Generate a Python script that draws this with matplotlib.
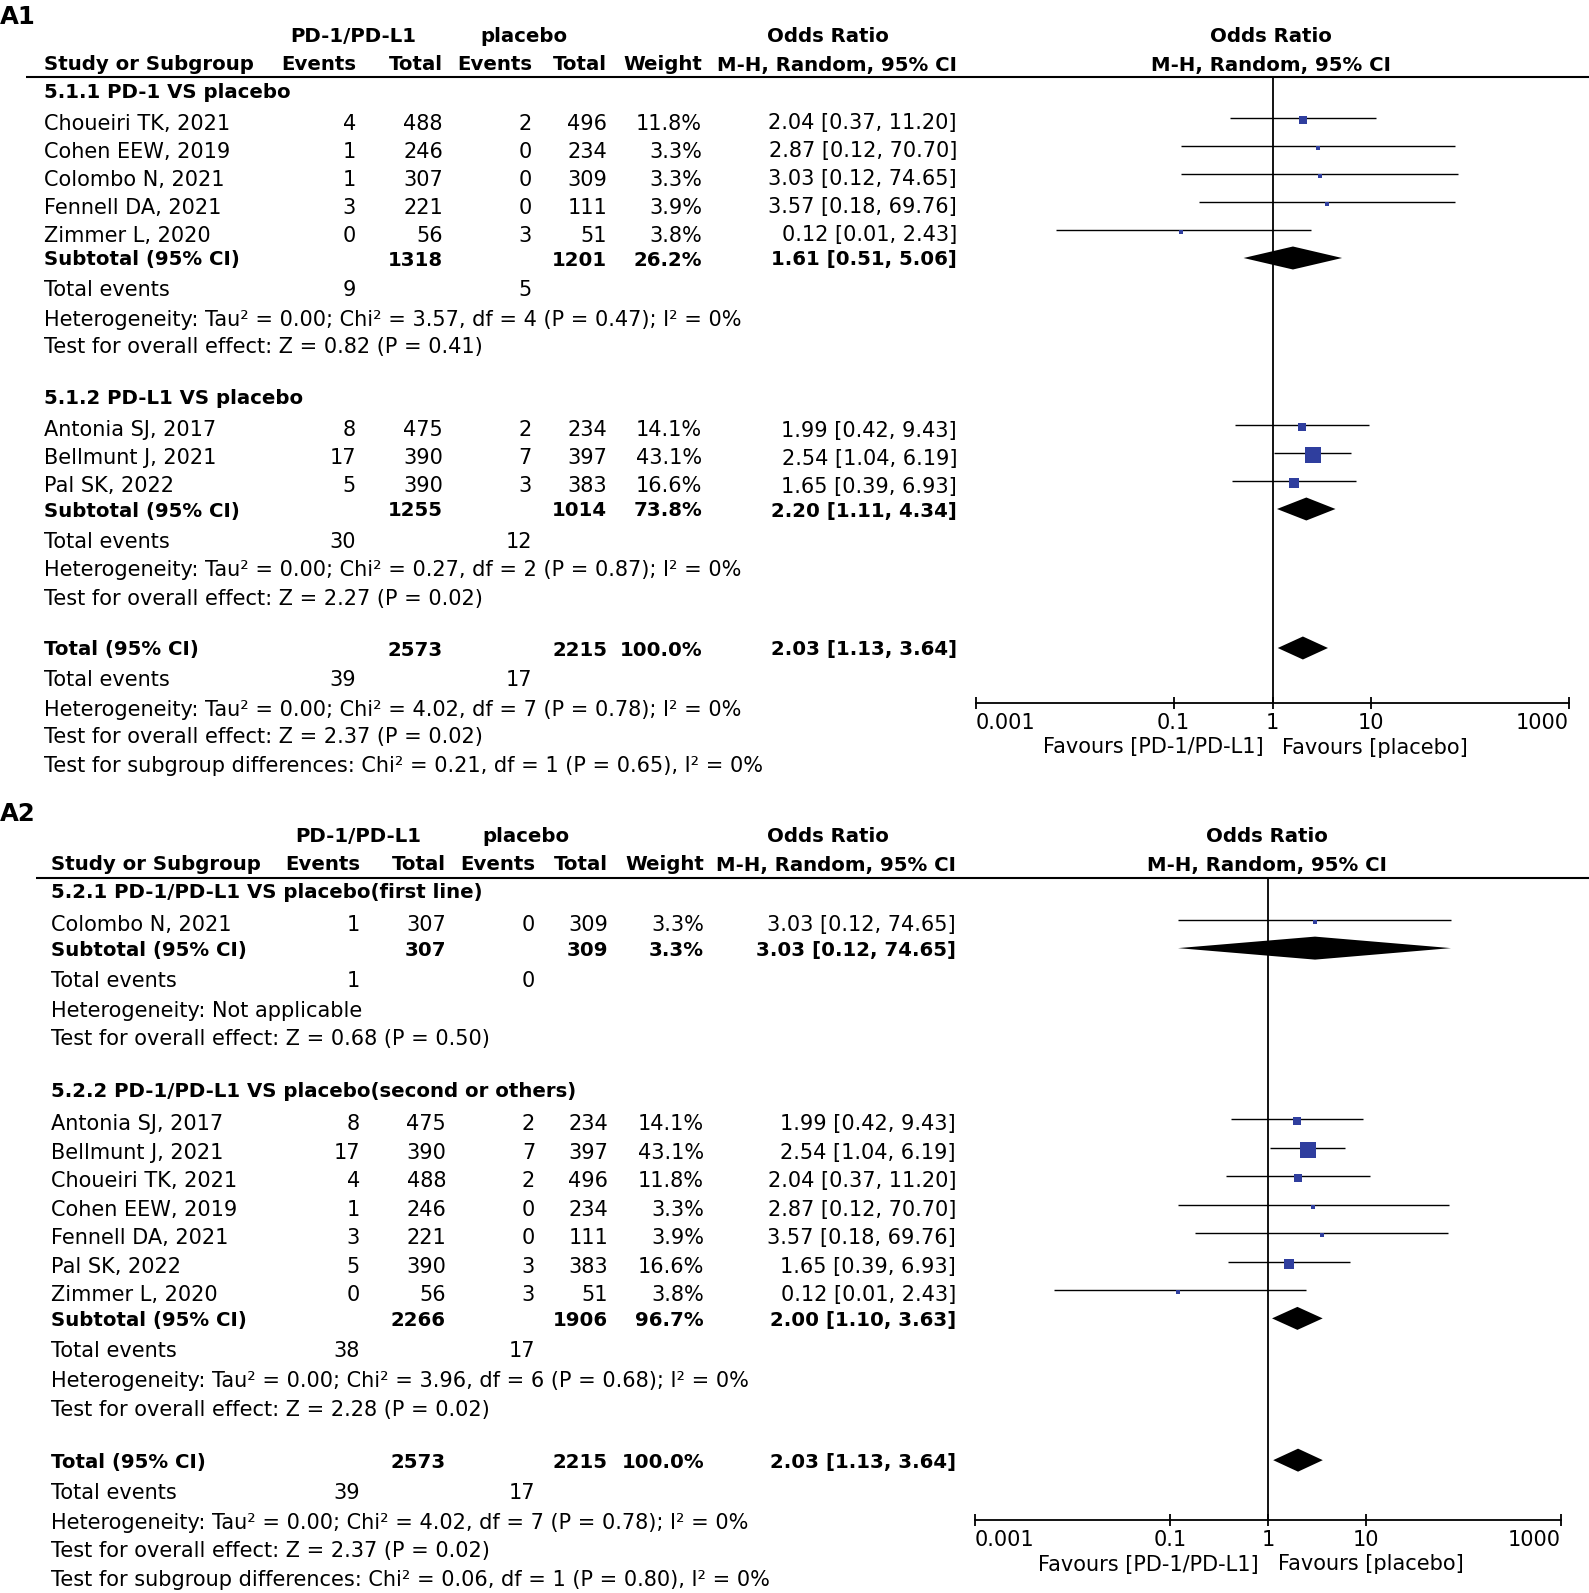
import matplotlib
matplotlib.use("Agg")
import matplotlib.pyplot as plt
import numpy as np

plt.rcParams['font.family'] = ['DejaVu Sans']

W, H, DPI = 1589, 1593, 100

# ---------------- data ----------------
study_names = ["Antonia SJ, 2017", "Bellmunt J, 2021", "Choueiri TK, 2021", "Cohen EEW, 2019",
               "Colombo N, 2021", "Fennell DA, 2021", "Pal SK, 2022", "Zimmer L, 2020"]
events_pd = [8, 17, 4, 1, 1, 3, 5, 0]
total_pd = [475, 390, 488, 246, 307, 221, 390, 56]
events_pl = [2, 7, 2, 0, 0, 0, 3, 3]
total_pl = [234, 397, 496, 234, 309, 111, 383, 51]
weights = [14.1, 43.1, 11.8, 3.3, 3.3, 3.9, 16.6, 3.8]
or_est = [1.99, 2.54, 2.04, 2.87, 3.03, 3.57, 1.65, 0.12]
or_lo = [0.42, 1.04, 0.37, 0.12, 0.12, 0.18, 0.39, 0.0065]
or_hi = [9.43, 6.19, 11.20, 70.70, 74.65, 69.76, 6.93, 2.43]

# panel A1 subgroups
a1_titles = ["5.1.1 PD-1 VS placebo", "5.1.2 PD-L1 VS placebo"]
a1_members = [["Choueiri TK, 2021", "Cohen EEW, 2019", "Colombo N, 2021", "Fennell DA, 2021", "Zimmer L, 2020"],
              ["Antonia SJ, 2017", "Bellmunt J, 2021", "Pal SK, 2022"]]
a1_sub_tot_pd = [1318, 1255]
a1_sub_tot_pl = [1201, 1014]
a1_sub_weight = [26.2, 73.8]
a1_sub_or = [1.61, 2.20]
a1_sub_lo = [0.51, 1.11]
a1_sub_hi = [5.06, 4.34]
a1_sub_ev_pd = [9, 30]
a1_sub_ev_pl = [5, 12]
a1_sub_het = ["Heterogeneity: Tau² = 0.00; Chi² = 3.57, df = 4 (P = 0.47); I² = 0%",
              "Heterogeneity: Tau² = 0.00; Chi² = 0.27, df = 2 (P = 0.87); I² = 0%"]
a1_sub_z = ["Test for overall effect: Z = 0.82 (P = 0.41)",
            "Test for overall effect: Z = 2.27 (P = 0.02)"]
a1_subgroup_diff = "Test for subgroup differences: Chi² = 0.21, df = 1 (P = 0.65), I² = 0%"

# panel A2 subgroups
a2_titles = ["5.2.1 PD-1/PD-L1 VS placebo(first line)", "5.2.2 PD-1/PD-L1 VS placebo(second or others)"]
a2_members = [["Colombo N, 2021"],
              ["Antonia SJ, 2017", "Bellmunt J, 2021", "Choueiri TK, 2021", "Cohen EEW, 2019",
               "Fennell DA, 2021", "Pal SK, 2022", "Zimmer L, 2020"]]
a2_sub_tot_pd = [307, 2266]
a2_sub_tot_pl = [309, 1906]
a2_sub_weight = [3.3, 96.7]
a2_sub_or = [3.03, 2.00]
a2_sub_lo = [0.12, 1.10]
a2_sub_hi = [74.65, 3.63]
a2_sub_ev_pd = [1, 38]
a2_sub_ev_pl = [0, 17]
a2_sub_het = ["Heterogeneity: Not applicable",
              "Heterogeneity: Tau² = 0.00; Chi² = 3.96, df = 6 (P = 0.68); I² = 0%"]
a2_sub_z = ["Test for overall effect: Z = 0.68 (P = 0.50)",
            "Test for overall effect: Z = 2.28 (P = 0.02)"]
a2_subgroup_diff = "Test for subgroup differences: Chi² = 0.06, df = 1 (P = 0.80), I² = 0%"

# overall
overall_tot_pd = 2573
overall_tot_pl = 2215
overall_weight = 100.0
overall_or = 2.03
overall_lo = 1.13
overall_hi = 3.64
overall_ev_pd = 39
overall_ev_pl = 17
overall_het = "Heterogeneity: Tau² = 0.00; Chi² = 4.02, df = 7 (P = 0.78); I² = 0%"
overall_z = "Test for overall effect: Z = 2.37 (P = 0.02)"

tick_vals = [0.001, 0.1, 1, 10, 1000]
tick_labels = ["0.001", "0.1", "1", "10", "1000"]
favours_left = "Favours [PD-1/PD-L1]"
favours_right = "Favours [placebo]"

# ---------------- style ----------------
FS = 15.0
FSB = 14.2
BLUE = "#2F3E9E"
BASE = 7.5

fig = plt.figure(figsize=(W / DPI, H / DPI), dpi=DPI)
bg = fig.add_axes([0, 0, 1, 1])
bg.set_xlim(0, W)
bg.set_ylim(H, 0)
bg.axis("off")


def txt(x, y, s, ha="left", bold=False, size=None):
    bg.text(x, y + BASE, s, ha=ha, va="baseline",
            fontsize=size if size else (FSB if bold else FS),
            fontweight="bold" if bold else "normal", color="black")


def fmt_or(e, l, h):
    return f"{e:.2f} [{l:.2f}, {h:.2f}]"


def draw_panel(label, label_y, hy1, hy2, line_y, line_x0, axis_y, ax_x0, ax_x1,
               xl, cols, titles, members, sub_tot_pd, sub_tot_pl, sub_w, sub_or, sub_lo, sub_hi,
               sub_ev_pd, sub_ev_pl, sub_het, sub_z, subgroup_diff, sc,
               hdr_pd_x, hdr_pl_x, hdr_or_x, right_hdr_x):
    ev1, tot1, ev2, tot2, wt, orc = cols
    # panel label
    bg.text(0, label_y + 9, label, ha="left", va="baseline", fontsize=17.6, fontweight="bold")
    # headers
    txt(hdr_pd_x, hy1, "PD-1/PD-L1", ha="center", bold=True)
    txt(hdr_pl_x, hy1, "placebo", ha="center", bold=True)
    txt(hdr_or_x, hy1, "Odds Ratio", ha="center", bold=True)
    txt(right_hdr_x, hy1, "Odds Ratio", ha="center", bold=True)
    txt(xl, hy2, "Study or Subgroup", bold=True)
    txt(ev1, hy2, "Events", ha="right", bold=True)
    txt(tot1, hy2, "Total", ha="right", bold=True)
    txt(ev2, hy2, "Events", ha="right", bold=True)
    txt(tot2, hy2, "Total", ha="right", bold=True)
    txt(wt, hy2, "Weight", ha="right", bold=True)
    txt(orc, hy2, "M-H, Random, 95% CI", ha="right", bold=True)
    txt(right_hdr_x, hy2, "M-H, Random, 95% CI", ha="center", bold=True)
    bg.plot([line_x0, W], [line_y, line_y], color="black", lw=1.5, solid_capstyle="butt")

    # forest axes in pixel-y coordinates
    ax = fig.add_axes([ax_x0 / W, 1 - axis_y / H, (ax_x1 - ax_x0) / W, (axis_y - line_y) / H])
    ax.set_xscale("log")
    ax.set_xlim(tick_vals[0], tick_vals[-1])
    ax.set_ylim(axis_y, line_y)
    ax.patch.set_alpha(0)
    for sp in ["top", "left", "right"]:
        ax.spines[sp].set_visible(False)
    ax.spines["bottom"].set_linewidth(1.3)
    ax.set_yticks([])
    ax.set_xticks(tick_vals)
    ax.set_xticklabels(tick_labels, fontsize=FS)
    ax.xaxis.set_minor_locator(matplotlib.ticker.NullLocator())
    ax.tick_params(axis="x", direction="inout", length=9, width=1.3, pad=2.5)
    lbls = ax.get_xticklabels()
    lbls[0].set_ha("left")
    lbls[-1].set_ha("right")
    ax.axvline(1, color="black", lw=1.3)

    def diamond(y, e, l, h):
        hh = 11.5
        ax.fill([l, e, h, e], [y, y - hh, y, y + hh], color="black", lw=0)

    y = line_y + 13
    for g in range(len(titles)):
        txt(xl, y, titles[g], bold=True)
        y += 32 * sc
        for k, name in enumerate(members[g]):
            i = study_names.index(name)
            if k > 0:
                y += 28 * sc
            txt(xl, y, name)
            txt(ev1, y, str(events_pd[i]), ha="right")
            txt(tot1, y, str(total_pd[i]), ha="right")
            txt(ev2, y, str(events_pl[i]), ha="right")
            txt(tot2, y, str(total_pl[i]), ha="right")
            txt(wt, y, f"{weights[i]:.1f}%", ha="right")
            txt(orc, y, fmt_or(or_est[i], or_lo[i], or_hi[i]), ha="right")
            ax.plot([or_lo[i], or_hi[i]], [y - 3.5, y - 3.5], color="black", lw=1.0,
                    solid_capstyle="butt")
            side = 2.3 * np.sqrt(weights[i])
            ax.plot([or_est[i]], [y - 1.5], marker="s", ms=side * 0.72, color=BLUE,
                    mec=BLUE, mew=0, ls="none")
        y += 24 * sc
        txt(xl, y, "Subtotal (95% CI)", bold=True)
        txt(tot1, y, str(sub_tot_pd[g]), ha="right", bold=True)
        txt(tot2, y, str(sub_tot_pl[g]), ha="right", bold=True)
        txt(wt, y, f"{sub_w[g]:.1f}%", ha="right", bold=True)
        txt(orc, y, fmt_or(sub_or[g], sub_lo[g], sub_hi[g]), ha="right", bold=True)
        diamond(y, sub_or[g], sub_lo[g], sub_hi[g])
        y += 31 * sc
        txt(xl, y, "Total events")
        txt(ev1, y, str(sub_ev_pd[g]), ha="right")
        txt(ev2, y, str(sub_ev_pl[g]), ha="right")
        y += 29 * sc
        txt(xl, y, sub_het[g])
        y += 28 * sc
        txt(xl, y, sub_z[g])
        y += 51 * sc
    # overall
    txt(xl, y, "Total (95% CI)", bold=True)
    txt(tot1, y, str(overall_tot_pd), ha="right", bold=True)
    txt(tot2, y, str(overall_tot_pl), ha="right", bold=True)
    txt(wt, y, f"{overall_weight:.1f}%", ha="right", bold=True)
    txt(orc, y, fmt_or(overall_or, overall_lo, overall_hi), ha="right", bold=True)
    diamond(y, overall_or, overall_lo, overall_hi)
    y += 31 * sc
    txt(xl, y, "Total events")
    txt(ev1, y, str(overall_ev_pd), ha="right")
    txt(ev2, y, str(overall_ev_pl), ha="right")
    y += 29 * sc
    txt(xl, y, overall_het)
    y += 28 * sc
    txt(xl, y, overall_z)
    y += 28 * sc
    txt(xl, y, subgroup_diff)

    # favours labels
    x1 = ax_x0 + (ax_x1 - ax_x0) * 0.5
    txt(x1 - 9, axis_y + 43, favours_left, ha="right")
    txt(x1 + 10, axis_y + 43, favours_right, ha="left")
    return ax


draw_panel("A1", 15, 34, 63, 77, 26, 703, 976, 1569,
           44, (356, 443, 532, 607, 702, 957),
           a1_titles, a1_members, a1_sub_tot_pd, a1_sub_tot_pl, a1_sub_weight,
           a1_sub_or, a1_sub_lo, a1_sub_hi, a1_sub_ev_pd, a1_sub_ev_pl,
           a1_sub_het, a1_sub_z, a1_subgroup_diff, 1.0,
           353, 524, 828, 1271)

draw_panel("A2", 812, 835, 863, 878, 36, 1520, 975, 1561,
           51, (360, 446, 535, 608, 704, 956),
           a2_titles, a2_members, a2_sub_tot_pd, a2_sub_tot_pl, a2_sub_weight,
           a2_sub_or, a2_sub_lo, a2_sub_hi, a2_sub_ev_pd, a2_sub_ev_pl,
           a2_sub_het, a2_sub_z, a2_subgroup_diff, 1.02,
           358, 526, 828, 1267)

fig.savefig("out.png", dpi=DPI)
